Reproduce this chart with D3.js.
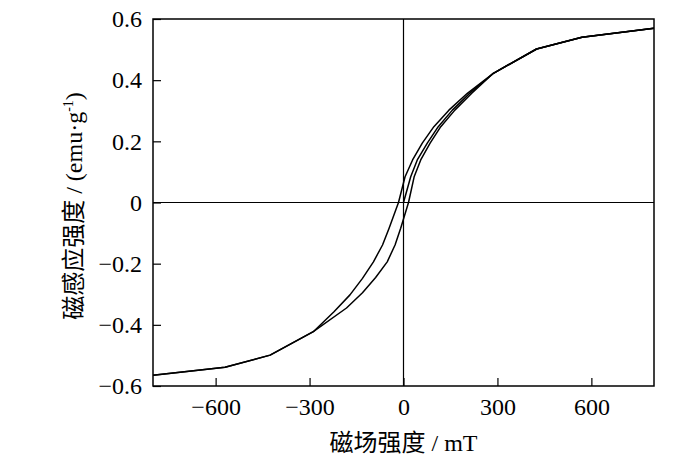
<!DOCTYPE html>
<html>
<head>
<meta charset="utf-8">
<script src="https://cdn.jsdelivr.net/npm/d3@7/dist/d3.min.js"></script>
<style>
  body { margin: 0; background: #fff; }
  svg { display: block; }
  text { font-family: "Liberation Serif", "Times New Roman", "Noto Sans CJK SC", serif; fill: #000; }
</style>
</head>
<body>
<svg id="chart" width="700" height="466"></svg>
<script>
// Field values (mT) and magnetization (emu/g)
// Descending branch: +800 -> -800
const descH = [800, 570, 425, 287, 204, 145, 97, 60, 29, 5, -16, -46, -67, -96, -131, -171, -222, -288, -426, -570, -800];
const descM = [0.570, 0.540, 0.502, 0.4225, 0.357, 0.302, 0.248, 0.194, 0.139, 0.084, 0, -0.084, -0.139, -0.194, -0.248, -0.302, -0.357, -0.4225, -0.499, -0.539, -0.565];
// Ascending branch: -800 -> +800
const ascH = [-800, -570, -426, -288, -182, -131, -89, -52, -27, -9, 16, 34, 55, 85, 119, 164, 218, 287, 425, 570, 800];
const ascM = [-0.565, -0.539, -0.499, -0.4225, -0.345, -0.295, -0.245, -0.194, -0.139, -0.084, 0, 0.084, 0.139, 0.194, 0.248, 0.302, 0.357, 0.4225, 0.502, 0.540, 0.570];
// Initial magnetization curve: 0 -> +800
const virgH = [0, 23, 44, 76, 111, 156, 211, 287, 425, 570, 800];
const virgM = [0, 0.084, 0.139, 0.194, 0.248, 0.302, 0.357, 0.4225, 0.502, 0.540, 0.570];

const xTicks = [-600, -300, 0, 300, 600];
const yTicks = [-0.6, -0.4, -0.2, 0, 0.2, 0.4, 0.6];
const xTitle = "磁场强度 / mT";
const yTitleMain = "磁感应强度 / (emu·g";
const yTitleSup = "-1";
const yTitleEnd = ")";

const svg = d3.select("#chart");
const L = 153, R = 654, T = 19, B = 386;

const x = d3.scaleLinear().domain([-800, 800]).range([L, R]);
const y = d3.scaleLinear().domain([-0.6, 0.6]).range([B, T]);

const fmtNum = v => (v < 0 ? "\u2212" : "") + Math.abs(v);
const fmtY = v => v === 0 ? "0" : (v < 0 ? "\u2212" : "") + d3.format(".1f")(Math.abs(v));

const serif = "'Liberation Serif', 'Times New Roman', serif";

// zero lines
svg.append("line").attr("x1", L).attr("x2", R).attr("y1", y(0)).attr("y2", y(0))
  .attr("stroke", "#000").attr("stroke-width", 1.2);
svg.append("line").attr("x1", x(0)).attr("x2", x(0)).attr("y1", T).attr("y2", B)
  .attr("stroke", "#000").attr("stroke-width", 1.2);

// axes
const xAxis = d3.axisBottom(x).tickValues(xTicks).tickFormat(fmtNum).tickSize(-8).tickPadding(12);
const gx = svg.append("g").attr("transform", `translate(0,${B})`).call(xAxis);
const yAxis = d3.axisLeft(y).tickValues(yTicks).tickFormat(fmtY).tickSize(-8).tickPadding(11);
const gy = svg.append("g").attr("transform", `translate(${L},0)`).call(yAxis);
[gx, gy].forEach(g => {
  g.attr("font-family", serif).attr("font-size", 24);
  g.select(".domain").remove();
  g.selectAll(".tick line").attr("stroke", "#000").attr("stroke-width", 1.2);
  g.selectAll(".tick text").style("font-family", serif).style("font-size", "24px").attr("fill", "#000");
});

// curves
const line = d3.line().x(d => x(d[0])).y(d => y(d[1])).curve(d3.curveLinear);
const series = [
  d3.zip(descH, descM),
  d3.zip(ascH, ascM),
  d3.zip(virgH, virgM)
];
svg.append("g").selectAll("path").data(series).join("path")
  .attr("d", line).attr("fill", "none").attr("stroke", "#000")
  .attr("stroke-width", 1.5).attr("stroke-linejoin", "round");

// frame
svg.append("rect").attr("x", L).attr("y", T).attr("width", R - L).attr("height", B - T)
  .attr("fill", "none").attr("stroke", "#000").attr("stroke-width", 1.5);

// titles
svg.append("text").attr("x", (L + R) / 2).attr("y", 451).attr("text-anchor", "middle")
  .style("font-size", "24px").text(xTitle);

const yt = svg.append("text").attr("transform", "translate(82,206) rotate(-90)")
  .attr("text-anchor", "middle").style("font-size", "24px");
yt.append("tspan").text(yTitleMain);
yt.append("tspan").attr("dy", -9).style("font-size", "14px").text(yTitleSup);
yt.append("tspan").attr("dy", 9).text(yTitleEnd);
</script>
</body>
</html>
